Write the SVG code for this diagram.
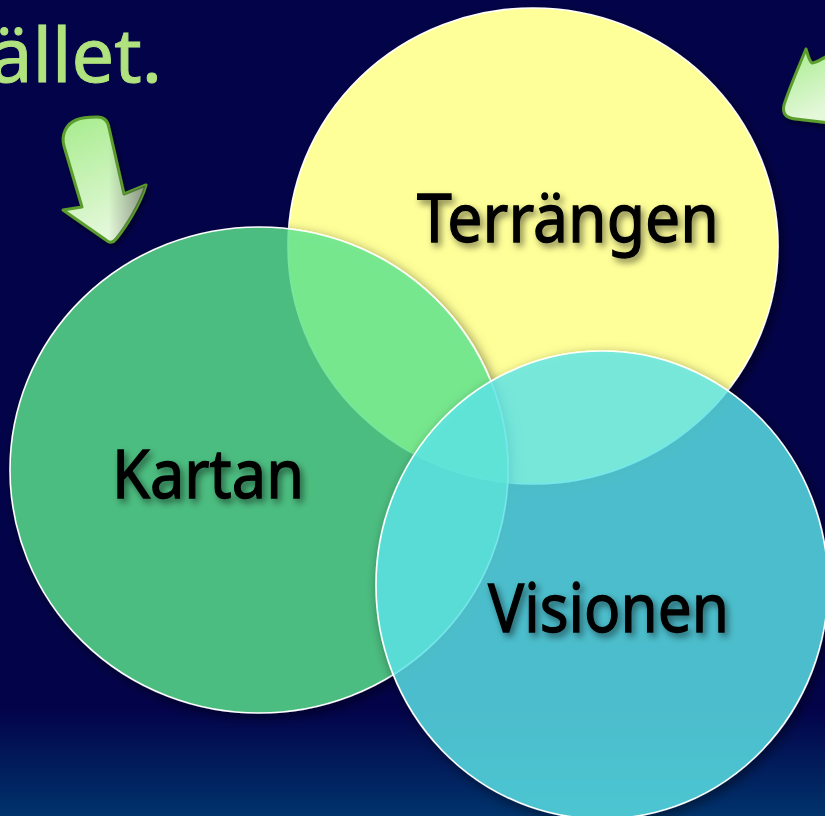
<svg xmlns="http://www.w3.org/2000/svg" width="825" height="816" viewBox="0 0 825 816">
<defs>
<linearGradient id="bg" x1="0" y1="0" x2="0" y2="1">
<stop offset="0" stop-color="#03034A"/>
<stop offset="0.87" stop-color="#03034A"/>
<stop offset="1" stop-color="#00336B"/>
</linearGradient>
<linearGradient id="arrowFill" x1="0" y1="0" x2="0.3" y2="1">
<stop offset="0" stop-color="#A6EC8C"/>
<stop offset="1" stop-color="#E4F8DA"/>
</linearGradient>
<linearGradient id="arrowShade" x1="0" y1="0" x2="1" y2="0">
<stop offset="0.55" stop-color="#404040" stop-opacity="0"/>
<stop offset="1" stop-color="#404040" stop-opacity="0.55"/>
</linearGradient>
<filter id="shadow" x="-10%" y="-10%" width="120%" height="120%">
<feGaussianBlur in="SourceAlpha" stdDeviation="6" result="b"/>
<feOffset in="b" dx="3" dy="4" result="o"/>
<feComposite in="o" in2="SourceAlpha" operator="out" result="s"/>
<feColorMatrix in="s" type="matrix" values="0 0 0 0 0  0 0 0 0 0  0 0 0 0 0  0 0 0 0.55 0" result="sc"/>
<feMerge><feMergeNode in="sc"/><feMergeNode in="SourceGraphic"/></feMerge>
</filter>
<filter id="textShadow" x="-10%" y="-30%" width="120%" height="160%">
<feGaussianBlur in="SourceAlpha" stdDeviation="3.5" result="b"/>
<feOffset in="b" dx="3" dy="4" result="o"/>
<feColorMatrix in="o" type="matrix" values="0 0 0 0 0  0 0 0 0 0  0 0 0 0 0  0 0 0 0.5 0" result="sc"/>
<feMerge><feMergeNode in="sc"/><feMergeNode in="SourceGraphic"/></feMerge>
</filter>
<filter id="arrowShadow" x="-20%" y="-20%" width="140%" height="140%">
<feDropShadow dx="2" dy="3" stdDeviation="3" flood-color="#000" flood-opacity="0.5"/>
</filter>
</defs>
<style>
.circle { stroke: #FFFFFF; stroke-width: 1.6; }
.label { font-family: "Noto Sans", "DejaVu Sans", sans-serif; font-size: 68px; fill: #000000; stroke: #000000; stroke-width: 1.3; filter: url(#textShadow); }
.title { font-family: "Noto Sans", "DejaVu Sans", sans-serif; font-size: 74px; fill: #B0E27E; stroke: #B0E27E; stroke-width: 1; }
.arrow { fill: url(#arrowFill); stroke: #5C9E2E; stroke-width: 3; stroke-linejoin: round; }
</style>
<rect x="0" y="0" width="825" height="816" fill="url(#bg)"/>
<text class="title" x="-10" y="82" textLength="172" lengthAdjust="spacingAndGlyphs">ället.</text>
<g id="arrow-left" filter="url(#arrowShadow)">
<path class="arrow" d="M97,117 C104,117 108,121 109,128 L124,194 L146,185 C140,205 125,228 116,239 C113,243 109,243 106,240 L63,210 L82,207 L64,146 C61,135 66,124 76,120 C83,117 90,117 97,117 Z"/>
<path d="M97,117 C104,117 108,121 109,128 L124,194 L146,185 C140,205 125,228 116,239 C113,243 109,243 106,240 L63,210 L82,207 L64,146 C61,135 66,124 76,120 C83,117 90,117 97,117 Z" fill="url(#arrowShade)"/>
</g>
<g id="arrow-right" filter="url(#arrowShadow)">
<path class="arrow" d="M806,49 C800,64 790,86 784,105 C782,114 786,118 796,119 L830,123 L830,55 C822,58 817,63 812,63 C809,61 808,55 806,49 Z"/>
</g>
<g id="connectors"></g>
<g id="node-terrangen">
<ellipse class="circle" cx="533" cy="246" rx="245" ry="238" fill="#FFFF99" filter="url(#shadow)"/>
</g>
<g id="node-kartan">
<ellipse class="circle" cx="259" cy="470" rx="249" ry="243" fill="#5CE48C" fill-opacity="0.82" filter="url(#shadow)"/>
</g>
<g id="node-visionen">
<ellipse class="circle" cx="602" cy="585" rx="226" ry="234" fill="#5BE4E8" fill-opacity="0.82" filter="url(#shadow)"/>
</g>
<g id="labels">
<text class="label" x="417" y="242" textLength="302" lengthAdjust="spacingAndGlyphs">Terrängen</text>
<text class="label" x="112" y="498" textLength="192" lengthAdjust="spacingAndGlyphs">Kartan</text>
<text class="label" x="488" y="632" textLength="241" lengthAdjust="spacingAndGlyphs">Visionen</text>
</g>
</svg>
